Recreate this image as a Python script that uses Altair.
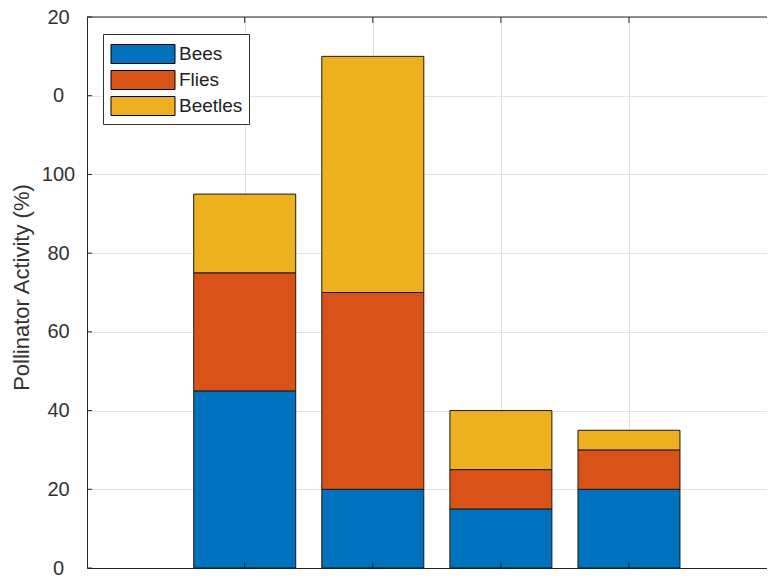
import altair as alt
import pandas as pd

# ---- data ----
cat_pos = [1, 2, 3, 4]
series = ["Bees", "Flies", "Beetles"]
bees = [45, 20, 15, 20]
flies = [30, 50, 10, 10]
beetles = [20, 60, 15, 5]
colors = ["#0072BD", "#D95319", "#EDB120"]
y_ticks = [0, 20, 40, 60, 80, 100, 120, 140]
y_tick_labels = ["0", "20", "40", "60", "80", "100", "0", "20"]
y_top = [140]

rows = []
for i, p in enumerate(cat_pos):
    for o, (s, vals) in enumerate(zip(series, [bees, flies, beetles])):
        rows.append({"pos": p, "series": s, "value": vals[i], "order": o})
df = pd.DataFrame(rows)
tick_df = pd.DataFrame({"v": y_ticks})
top_df = pd.DataFrame({"v": y_top})
pos_df = pd.DataFrame({"pos": cat_pos})

W, H = 680, 551
x_scale = alt.Scale(domain=[-0.1923, 5.0385], nice=False, zero=False)
y_scale = alt.Scale(domain=[0, 140], nice=False)

AX = "#262626"
GRID = "#e3e3e3"
FONT = "Liberation Sans"

label_expr = "[" + ",".join(f"'{l}'" for l in y_tick_labels) + "][round(datum.value/20)]"

x_axis = alt.Axis(
    orient="bottom", values=cat_pos, labels=False, ticks=False, tickSize=0,
    domain=True, domainColor=AX, grid=True, gridColor=GRID, title=None)
y_axis = alt.Axis(
    values=y_ticks, labelExpr=label_expr, grid=True, gridColor=GRID,
    ticks=False, tickSize=0, domain=True, domainColor=AX,
    labelFontSize=20, labelFont=FONT, labelColor="#333333",
    labelAlign="center", labelPadding=29,
    title="Pollinator Activity (%)", titleFontSize=22, titleFont=FONT,
    titleFontWeight="normal", titleColor="#333333",
    titleX=-66, titleY=270, titleBaseline="middle")

legend = alt.Legend(
    title=None, orient="none", legendX=16, legendY=17,
    symbolType="M-2.397,-0.712H2.397V0.712H-2.397Z", symbolSize=713,
    symbolStrokeColor="#000000", symbolStrokeWidth=1, symbolOpacity=1,
    symbolOffset=20, labelOffset=22, labelFontSize=19, labelFont=FONT,
    labelColor="#222222", padding=6, rowPadding=0,
    strokeColor="#333333", fillColor="white", cornerRadius=0,
)

bars = alt.Chart(df).mark_bar(size=102, stroke="#1a1a1a", strokeWidth=1).encode(
    x=alt.X("pos:Q", scale=x_scale, axis=x_axis),
    y=alt.Y("value:Q", stack="zero", scale=y_scale, axis=y_axis),
    color=alt.Color("series:N", scale=alt.Scale(domain=series, range=colors), legend=legend),
    order=alt.Order("order:Q", sort="ascending"),
)

top_line = alt.Chart(top_df).mark_rule(color=AX, strokeWidth=1).encode(
    y=alt.Y("v:Q", scale=y_scale, axis=y_axis),
    x=alt.value(0), x2=alt.value(W),
)

yticks = alt.Chart(tick_df).mark_rule(color=AX, strokeWidth=1).encode(
    y=alt.Y("v:Q", scale=y_scale, axis=y_axis),
    x=alt.value(0), x2=alt.value(5),
)

top_ticks = alt.Chart(pos_df).mark_rule(color=AX, strokeWidth=1).encode(
    x=alt.X("pos:Q", scale=x_scale, axis=x_axis),
    y=alt.value(0), y2=alt.value(6),
)

bottom_ticks = alt.Chart(pos_df).mark_rule(color=AX, strokeWidth=1).encode(
    x=alt.X("pos:Q", scale=x_scale, axis=x_axis),
    y=alt.value(H - 6), y2=alt.value(H),
)

chart = alt.layer(bars, top_line, yticks, top_ticks, bottom_ticks).properties(
    width=W, height=H,
    autosize=alt.AutoSizeParams(type="none"),
    padding={"left": 79, "top": 9, "right": 0, "bottom": 8},
).configure_view(stroke=None)

chart.save("out.html", embed_options={"renderer": "svg", "actions": False})
